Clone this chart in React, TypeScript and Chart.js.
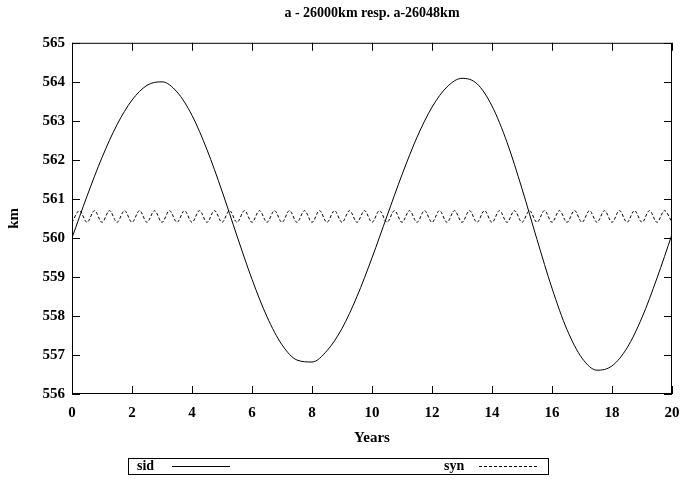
import { useEffect, useRef } from "react";
import { Chart, registerables } from "chart.js";

Chart.register(...registerables);

const TITLE = "a - 26000km resp. a-26048km";
const X_TITLE = "Years";
const Y_TITLE = "km";
const SID_LABEL = "sid";
const SYN_LABEL = "syn";

const xTicks = [0, 2, 4, 6, 8, 10, 12, 14, 16, 18, 20];
const yTicks = [556, 557, 558, 559, 560, 561, 562, 563, 564, 565];

const sidYears = [
  0, 0.5, 1, 1.5, 2, 2.5, 3, 3.5, 4, 4.5, 5, 5.5, 6, 6.5, 7, 7.5, 8, 8.5, 9, 9.5, 10,
  10.5, 11, 11.5, 12, 12.5, 13, 13.5, 14, 14.5, 15, 15.5, 16, 16.5, 17, 17.5, 18, 18.5, 19, 19.5, 20,
];
const sidValues = [
  560.0, 561.07, 562.06, 562.9, 563.53, 563.91, 564.0, 563.74, 563.14, 562.26, 561.2,
  560.05, 558.94, 557.98, 557.26, 556.87, 556.82, 557.11, 557.68, 558.5, 559.49,
  560.56, 561.62, 562.58, 563.35, 563.87, 564.09, 563.95, 563.38, 562.45, 561.26,
  559.96, 558.71, 557.65, 556.92, 556.61, 556.72, 557.18, 557.96, 558.97, 560.09,
];

const synYears = [
  0, 0.25, 0.5, 0.75, 1, 1.25, 1.5, 1.75, 2, 2.25, 2.5, 2.75, 3, 3.25, 3.5, 3.75, 4, 4.25, 4.5, 4.75,
  5, 5.25, 5.5, 5.75, 6, 6.25, 6.5, 6.75, 7, 7.25, 7.5, 7.75, 8, 8.25, 8.5, 8.75, 9, 9.25, 9.5, 9.75,
  10, 10.25, 10.5, 10.75, 11, 11.25, 11.5, 11.75, 12, 12.25, 12.5, 12.75, 13, 13.25, 13.5, 13.75,
  14, 14.25, 14.5, 14.75, 15, 15.25, 15.5, 15.75, 16, 16.25, 16.5, 16.75, 17, 17.25, 17.5, 17.75,
  18, 18.25, 18.5, 18.75, 19, 19.25, 19.5, 19.75, 20,
];
const synValues = [
  560.4, 560.7, 560.4, 560.7, 560.4, 560.7, 560.4, 560.7, 560.4, 560.7, 560.4, 560.7, 560.4, 560.7,
  560.4, 560.7, 560.4, 560.7, 560.4, 560.7, 560.4, 560.7, 560.4, 560.7, 560.4, 560.7, 560.4, 560.7,
  560.4, 560.7, 560.4, 560.7, 560.4, 560.7, 560.4, 560.7, 560.4, 560.7, 560.4, 560.7, 560.4, 560.7,
  560.4, 560.7, 560.4, 560.7, 560.4, 560.7, 560.4, 560.7, 560.4, 560.7, 560.4, 560.7, 560.4, 560.7,
  560.4, 560.7, 560.4, 560.7, 560.4, 560.7, 560.4, 560.7, 560.4, 560.7, 560.4, 560.7, 560.4, 560.7,
  560.4, 560.7, 560.4, 560.7, 560.4, 560.7, 560.4, 560.7, 560.4, 560.7, 560.4,
];

const FONT = "'Liberation Serif', 'Times New Roman', serif";

const framePlugin = {
  id: "gnuFrame",
  afterDatasetsDraw(chart: any) {
    const { ctx, chartArea, scales } = chart;
    const { left, right, top, bottom } = chartArea;
    ctx.save();
    ctx.strokeStyle = "#000";
    ctx.lineWidth = 1;
    ctx.setLineDash([]);
    ctx.strokeRect(left + 0.5, top + 0.5, right - left - 1, bottom - top - 1);
    const TL = 8;
    ctx.beginPath();
    for (const v of xTicks) {
      const x = Math.round(scales.x.getPixelForValue(v)) + 0.5;
      ctx.moveTo(x, bottom);
      ctx.lineTo(x, bottom - TL);
      ctx.moveTo(x, top);
      ctx.lineTo(x, top + TL);
    }
    for (const v of yTicks) {
      const y = Math.round(scales.y.getPixelForValue(v)) + 0.5;
      ctx.moveTo(left, y);
      ctx.lineTo(left + TL, y);
      ctx.moveTo(right, y);
      ctx.lineTo(right - TL, y);
    }
    ctx.stroke();

    // legend box
    const ly = 466;
    ctx.strokeRect(128.5, 458.5, 420, 16);
    ctx.fillStyle = "#000";
    ctx.font = `bold 14px ${FONT}`;
    ctx.textBaseline = "middle";
    ctx.textAlign = "left";
    ctx.fillText(SID_LABEL, 137, ly);
    ctx.fillText(SYN_LABEL, 444, ly);
    ctx.beginPath();
    ctx.moveTo(172, ly + 0.5);
    ctx.lineTo(230, ly + 0.5);
    ctx.stroke();
    ctx.setLineDash([3, 2]);
    ctx.beginPath();
    ctx.moveTo(479, ly + 0.5);
    ctx.lineTo(538, ly + 0.5);
    ctx.stroke();
    ctx.restore();
  },
};

export default function App() {
  const ref = useRef<HTMLCanvasElement>(null);
  useEffect(() => {
    if (!ref.current) return;
    const chart = new Chart(ref.current, {
      type: "line",
      data: {
        datasets: [
          {
            label: SID_LABEL,
            data: sidYears.map((x, i) => ({ x, y: sidValues[i] })),
            borderColor: "#000",
            borderWidth: 1,
            pointRadius: 0,
            cubicInterpolationMode: "monotone",
            fill: false,
          },
          {
            label: SYN_LABEL,
            data: synYears.map((x, i) => ({ x, y: synValues[i] })),
            borderColor: "#000",
            borderWidth: 1,
            borderDash: [3, 2],
            pointRadius: 0,
            cubicInterpolationMode: "monotone",
            fill: false,
          },
        ],
      },
      options: {
        responsive: false,
        animation: false,
        devicePixelRatio: 1,
        layout: { padding: { left: 0, right: 10, top: 0, bottom: 0 } },
        plugins: {
          legend: { display: false },
          tooltip: { enabled: false },
          title: {
            display: true,
            text: TITLE,
            color: "#000",
            fullSize: false,
            font: { family: FONT, size: 14, weight: "bold" },
            padding: { top: 5, bottom: 21 },
          },
        },
        scales: {
          x: {
            type: "linear",
            min: 0,
            max: 20,
            afterBuildTicks: (s: any) => {
              s.ticks = xTicks.map((v) => ({ value: v }));
            },
            afterFit: (s: any) => {
              s.height = 92;
              s.paddingLeft = 0;
              s.paddingRight = 0;
            },
            grid: { display: false, drawTicks: false },
            border: { display: false },
            ticks: {
              color: "#000",
              padding: 10,
              maxRotation: 0,
              autoSkip: false,
              font: { family: FONT, size: 15, weight: "bold" },
            },
            title: {
              display: true,
              text: X_TITLE,
              color: "#000",
              font: { family: FONT, size: 15, weight: "bold" },
              padding: { top: 0, bottom: 39 },
            },
          },
          y: {
            type: "linear",
            min: 556,
            max: 565,
            afterBuildTicks: (s: any) => {
              s.ticks = yTicks.map((v) => ({ value: v }));
            },
            afterFit: (s: any) => {
              s.width = 72;
              s.paddingTop = 0;
              s.paddingBottom = 0;
            },
            grid: { display: false, drawTicks: false },
            border: { display: false },
            ticks: {
              color: "#000",
              padding: 7,
              autoSkip: false,
              font: { family: FONT, size: 15, weight: "bold" },
            },
            title: {
              display: true,
              text: Y_TITLE,
              color: "#000",
              font: { family: FONT, size: 15, weight: "bold" },
              padding: { top: 5, bottom: 0 },
            },
          },
        },
      },
      plugins: [framePlugin],
    });
    return () => chart.destroy();
  }, []);
  return (
    <div style={{ position: "fixed", left: 0, top: 0, width: 682, height: 486, background: "#fff" }}>
      <canvas ref={ref} width={682} height={486} style={{ width: 682, height: 486, display: "block" }} />
    </div>
  );
}
